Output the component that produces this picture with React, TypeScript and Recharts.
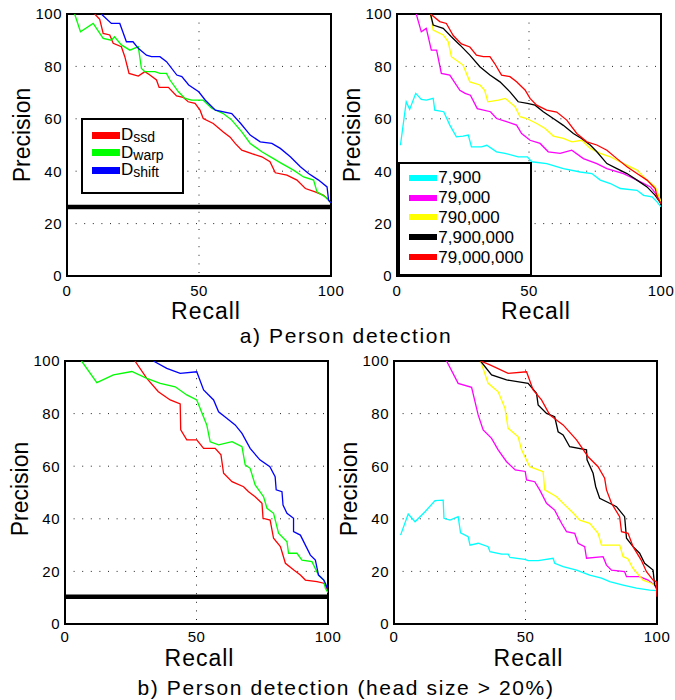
import {
  CartesianGrid,
  Legend,
  Line,
  LineChart,
  ReferenceArea,
  ReferenceLine,
  XAxis,
  YAxis,
} from "recharts";

type Pt = [number, number]; // [recall, precision]

// a) Person detection — distance functions
const aSsd: Pt[] = [[10.5,100],[12.4,98],[13.7,92.6],[16.2,92],[17.5,88.8],[20.6,87.5],[21.9,83.7],[23.5,77.3],[27,76.3],[29.5,78],[31.4,76.7],[33.9,74.8],[34.9,72],[38.4,72],[41.5,68.7],[44,68.2],[45.9,66.5],[48.5,65.9],[50.4,63.3],[51.6,60.1],[55.4,58.2],[59.2,55],[61.8,53],[63.7,50.6],[66.2,48],[70,46.7],[73.8,45.5],[76.9,43.6],[78.9,39.4],[83.3,38.5],[87.1,36.6],[90.3,33.4],[94,32.1],[97.2,30.8],[98.5,29.6],[100,27.9]];
const aWarp: Pt[] = [[2.9,100],[5.1,93.2],[9.9,96.4],[13.7,90.7],[16.8,90],[18,91.3],[20.6,88.2],[23.8,86.2],[27,87.5],[28.2,79.2],[29.5,78],[33.3,78],[35.2,77.3],[37.7,77.3],[39,74.8],[42.2,70.3],[44.7,67.8],[47.2,67.1],[51.6,67.1],[54.8,64],[59.2,62],[62.4,59.5],[66.2,55],[69.4,50.6],[73.8,47.4],[78.2,44.8],[81.4,42.9],[85.8,40.4],[89.6,37.8],[93.4,36.6],[94.7,32.1],[97.8,30.2],[100,27.9]];
const aShift: Pt[] = [[13,100],[16.8,96.4],[20,96.4],[22.5,89.4],[25,89.4],[27,86.9],[30.1,84.3],[32,83.7],[35.2,83.7],[37.7,81.8],[41.6,76.7],[43.5,76.1],[46.1,72.9],[49.9,70.3],[52.4,67.1],[56.2,63.3],[62.4,62],[65.8,58.2],[69.4,53.8],[73.2,51.2],[77.6,50.6],[80.8,48.7],[84.6,45.5],[88.4,41.7],[91.5,39.1],[95.3,36.6],[98.5,34],[99.1,28.9],[100,27.9]];

// a) Person detection — training set size
const a7900: Pt[] = [[1.3,49.9],[3.5,66.5],[4.8,63.6],[7.1,69.7],[9.2,67.4],[11.1,67.1],[13.7,67.8],[14.3,63.3],[17.7,62.7],[20,57.6],[22.5,53.1],[25,53.4],[27,53.8],[28.2,49.3],[32,49.3],[34,49.9],[37.7,47.4],[40.9,46.8],[45.9,45.5],[49.4,45.5],[51,43.6],[56.7,42.9],[63,41],[69.4,39.7],[73.8,39.1],[77,36.6],[80.8,35.3],[84.6,33.4],[90.9,32.7],[93.4,30.8],[96.6,30.2],[98.5,28.3],[100,26.4]];
const a79000: Pt[] = [[7.3,100],[9.2,93.2],[11.1,94.5],[13,86.2],[15,86.2],[16.8,77.3],[20,76.7],[23.8,70.9],[25.8,69.7],[27.8,69],[30.4,63.9],[35.4,62.7],[37.7,60.1],[41.5,58.9],[45.3,57.6],[47.2,54.4],[50.4,51.8],[54.2,50.6],[57.3,47.4],[61.8,46.8],[66.2,48],[70.6,44.8],[75.7,42.9],[79.5,41],[85.8,39.1],[88.4,37.8],[92.2,35.9],[96,34],[98.5,30.8],[100,27.6]];
const a790000: Pt[] = [[12.7,100],[13.7,93.9],[17.5,92],[19.4,89.4],[20.6,83.7],[25,80.5],[27.6,74.1],[31.4,72.9],[33.2,70.9],[34.4,66.5],[38.4,67.1],[41,67.8],[44.7,64.6],[46.6,60.8],[49.1,60.1],[52.9,58.2],[56.1,56.3],[59.2,53.4],[63,52.5],[66.2,51.2],[70,51.8],[73.2,48.7],[77,46.8],[80.8,45.5],[85.8,42.9],[90.9,40.4],[94.7,36.6],[97.8,34],[100,28.3]];
const a7900000: Pt[] = [[12.7,100],[13.7,95.8],[17.5,94.5],[20.6,91.3],[23.8,88.2],[27.6,84.3],[31.4,79.9],[35.2,76.7],[39,74.1],[42.8,70.3],[45.9,66.5],[49.4,65.9],[52.3,65.2],[55.4,62.7],[59.2,60.1],[63,57.5],[66.8,54.4],[69.9,52.5],[73.2,50],[75.7,47.4],[79.5,42.9],[83.3,41],[87.1,39.1],[90.9,36.6],[94.7,34],[97.8,30.8],[100,27.6]];
const a79000000: Pt[] = [[12.7,100],[16.2,97.1],[18.7,96.4],[21.3,91.8],[24.4,88.6],[27.6,87.4],[30.1,84.3],[32.7,83.7],[35.2,83.7],[37,81.1],[39.6,76.7],[42.8,76.1],[45.3,74.1],[48.5,71],[50.4,67.8],[52.9,65.2],[56.7,63.3],[60.5,62.6],[64.3,59.5],[68.1,54.4],[71.9,51.2],[75.7,50],[79.5,48],[83.3,44.8],[87.1,41.7],[90.9,39.1],[94.7,36.6],[97.8,33.4],[98.5,30.2],[100,27.6]];

// b) head size > 20% — distance functions
const bSsd: Pt[] = [[26.6,100],[31.1,93.4],[35.5,88.3],[40,85.2],[43.8,83.7],[44,73.8],[46.3,70],[50.1,70],[52.7,66.8],[57.1,66.8],[59.3,64.3],[60.3,57.3],[63.5,54.1],[67.9,52.2],[69.8,50.3],[72.3,48.4],[74.9,45.9],[75.3,40.2],[78,39.5],[79.3,32.6],[81.9,29.4],[83.8,23.1],[87,20.5],[89.5,18.6],[91.4,16.7],[95.8,16.1],[98.4,15.5],[100,12.9]];
const bWarp: Pt[] = [[6.3,100],[12.1,91.8],[18.4,94.7],[25.4,96],[31.1,93.4],[36.2,91.5],[41.9,90.2],[46.3,87.1],[50.1,85.2],[53.9,75.7],[55.2,69.3],[58.4,68.1],[63.5,69.3],[67.3,67.4],[68.5,60.5],[70.4,59.2],[72.3,52.9],[75.5,48.4],[76.8,44],[79.3,42.1],[81.2,34.5],[84.4,31.3],[85,26.9],[88.2,26.9],[90.1,24.3],[93.9,23.7],[96.4,18.6],[98.4,16.7],[99,13.6],[100,11.9]];
const bShift: Pt[] = [[33.6,100],[38.7,97.2],[43.8,95.3],[50.1,95.9],[52.7,89],[56.5,85.2],[58.4,80.7],[61.5,78.2],[64.7,75.7],[67.3,72.5],[70.4,66.8],[74.1,62.4],[77.9,59.8],[79.9,56],[80.3,51],[82.5,50.3],[82.9,45.2],[84.4,42.1],[86.9,40.2],[86.9,35.1],[89.5,33.8],[91.4,30],[93.3,26.2],[95.2,24.3],[96.4,18.6],[98.4,16.7],[99,15.5],[100,12.9]];

// b) head size > 20% — training set size
const b7900: Pt[] = [[2.5,33.8],[5.4,41.8],[8,38.9],[11.8,42.7],[15.6,46.9],[18.7,47.1],[19,40.2],[21.3,39.5],[24.4,40.8],[25.3,34.7],[28.2,33.2],[28.9,30],[32,30.7],[35.8,29.4],[36.5,27.5],[40.9,26.6],[43.4,26.6],[44.1,25.3],[49.7,24.6],[51,24.1],[54.8,24.1],[60.5,25],[61.1,23.1],[64.3,21.8],[69.4,20.5],[74.4,18.6],[78.9,17.4],[82,16.1],[87.1,14.8],[92.2,13.6],[97.2,12.9],[100,12.7]];
const b79000: Pt[] = [[20,100],[24.4,91.5],[29.5,90],[32,79.5],[33.9,73.8],[37.1,70.6],[39.6,66.2],[42.8,61.7],[46.1,58.6],[49.9,58],[50.4,54.8],[53.5,54.1],[55.4,51],[58,45.9],[61.1,43.3],[63.7,38.3],[65.6,35.1],[68.7,34.5],[70,30.7],[72.5,29.4],[73.2,25],[79.5,25.6],[80.8,22.4],[82.7,20.5],[87.7,19.9],[88.4,18],[93.4,18],[96.6,16.7],[99.1,14.8],[100,12.9]];
const b790000: Pt[] = [[32.9,100],[35.8,91.5],[39.6,88.3],[42.2,82],[43.4,74.4],[47.2,71.2],[48.5,66.2],[51.6,59.8],[56.7,57.9],[57.3,51],[61.8,48.4],[65,45.2],[68.2,42.1],[70.6,39.5],[74.4,38.3],[77.6,34.5],[78.9,30],[85.8,30],[87.1,25.6],[88.9,24.8],[90.8,21.2],[94.7,16.7],[97.8,15.5],[100,14.2]];
const b7900000: Pt[] = [[32.9,100],[37.1,94.7],[42.8,92.8],[51,91.5],[54.2,87.7],[54.8,83.3],[58,80.1],[61.1,78.8],[62.4,73.1],[64.3,71.9],[66.8,67.4],[73.2,66.2],[73.4,62.4],[75.7,57.3],[76.7,52.2],[78.2,47.8],[82,45.9],[84.6,44.6],[87.7,40.8],[88.4,32.6],[90.9,29.4],[93.4,26.9],[95.3,23.1],[98.5,20.5],[99.1,14.8],[100,13.6]];
const b79000000: Pt[] = [[32.9,100],[36.5,98.5],[43.4,95.3],[50.4,95.9],[52.9,89],[56.1,85.2],[59.2,79.5],[64.3,75.7],[69.4,70],[73.8,63.6],[77.6,59.8],[80.1,55.4],[80.8,51],[82.7,45.9],[85.8,40.8],[86.5,35.1],[89,34.5],[90.9,29.4],[94,24.3],[96,19.9],[98.5,16.7],[99.7,16.1],[100,10.4]];

const recallTicks = [0, 50, 100];
const precisionTicks = [0, 20, 40, 60, 80, 100];
const chanceA = 26.3;
const chanceB = 10.4;

const distanceLabels = ["ssd", "warp", "shift"];
const distanceColors = ["#ff0000", "#00ff00", "#0000ff"];
const sizeLabels = ["7,900", "79,000", "790,000", "7,900,000", "79,000,000"];
const sizeColors = ["#00ffff", "#ff00ff", "#ffff00", "#000000", "#ff0000"];

const FONT = '"Liberation Sans", Arial, Helvetica, sans-serif';
const Y_AXIS_W = 67;
const X_AXIS_H = 44;
const TOP = 14;

type Series = { label: string; color: string; pts: Pt[] };

const toRows = (pts: Pt[]) => pts.map(([recall, precision]) => ({ recall, precision }));
const makeSeries = (labels: string[], colors: string[], sets: Pt[][]): Series[] =>
  labels.map((label, i) => ({ label, color: colors[i], pts: sets[i] }));

type LegendSpec = {
  left: number;
  top: number;
  width: number;
  height: number;
  border: number;
  padTop: number;
  padLeft: number;
  rowH: number;
  swatchH: number;
  subscript: boolean;
};

function LegendBox({ items, spec }: { items: Series[]; spec: LegendSpec }) {
  return (
    <div
      style={{
        width: spec.width,
        height: spec.height,
        boxSizing: "border-box",
        border: `${spec.border}px solid #000`,
        background: "#fff",
        paddingTop: spec.padTop,
        paddingLeft: spec.padLeft,
        fontFamily: FONT,
        color: "#000",
      }}
    >
      {items.map((s) => (
        <div key={s.label} style={{ display: "flex", alignItems: "center", height: spec.rowH }}>
          <span style={{ width: 28, height: spec.swatchH, background: s.color, marginRight: 1, flex: "none" }} />
          {spec.subscript ? (
            <span style={{ fontSize: 17, lineHeight: "15px", whiteSpace: "nowrap" }}>
              D<span style={{ fontSize: 14, position: "relative", top: 2 }}>{s.label}</span>
            </span>
          ) : (
            <span style={{ fontSize: 17, lineHeight: "17px", whiteSpace: "nowrap" }}>{s.label}</span>
          )}
        </div>
      ))}
    </div>
  );
}

type PanelProps = {
  plotLeft: number;
  plotTop: number;
  w: number;
  h: number;
  series: Series[];
  chance?: number;
  legend?: LegendSpec;
  tickGap: number;
  recallShift: number;
  recallBaseline: number;
  precisionCenter: number;
};

function Panel(p: PanelProps) {
  const width = Y_AXIS_W + p.w + 14;
  const height = TOP + p.h + X_AXIS_H + 4;
  return (
    <div style={{ position: "absolute", left: p.plotLeft - Y_AXIS_W, top: p.plotTop - TOP }}>
      <LineChart width={width} height={height} margin={{ top: TOP, right: 14, bottom: 4, left: 0 }}>
        <CartesianGrid stroke="#222" strokeDasharray="1 7.6" />
        <XAxis
          type="number"
          dataKey="recall"
          domain={[0, 100]}
          ticks={recallTicks}
          allowDataOverflow
          height={X_AXIS_H}
          axisLine={false}
          tickLine={false}
          tickSize={6}
          tickMargin={p.tickGap}
          tick={{ fill: "#000", fontSize: 15, letterSpacing: 0.5 }}
          label={() => (
            <text
              x={Y_AXIS_W + p.w / 2 + p.recallShift}
              y={TOP + p.h + p.recallBaseline}
              textAnchor="middle"
              fontSize={23}
              letterSpacing={1}
              fill="#000"
            >
              Recall
            </text>
          )}
        />
        <YAxis
          type="number"
          domain={[0, 100]}
          ticks={precisionTicks}
          allowDataOverflow
          width={Y_AXIS_W}
          axisLine={false}
          tickLine={false}
          tickSize={4}
          tickMargin={1}
          tick={{ fill: "#000", fontSize: 15, letterSpacing: 0.5 }}
          label={() => (
            <text
              x={30}
              y={p.precisionCenter}
              transform={`rotate(-90 30 ${p.precisionCenter})`}
              textAnchor="middle"
              fontSize={23}
              fill="#000"
            >
              Precision
            </text>
          )}
        />
        {p.series.map((s) => (
          <Line
            key={s.label}
            data={toRows(s.pts)}
            dataKey="precision"
            name={s.label}
            type="linear"
            stroke={s.color}
            strokeWidth={1.3}
            dot={false}
            activeDot={false}
            isAnimationActive={false}
          />
        ))}
        {p.chance !== undefined && (
          <ReferenceLine y={p.chance} stroke="#000" strokeWidth={4.5} />
        )}
        <ReferenceArea x1={0} x2={100} y1={0} y2={100} fill="none" stroke="#000" strokeWidth={2} />
        {p.legend && (
          <Legend
            layout="vertical"
            align="center"
            verticalAlign="middle"
            wrapperStyle={{ left: p.legend.left, top: p.legend.top, width: p.legend.width, height: p.legend.height }}
            content={() => <LegendBox items={p.series} spec={p.legend as LegendSpec} />}
          />
        )}
      </LineChart>
    </div>
  );
}

const legendDist: LegendSpec = {
  left: 81, top: 117.5, width: 103, height: 76, border: 2,
  padTop: 7, padLeft: 9, rowH: 17.5, swatchH: 7, subscript: true,
};
const legendSize: LegendSpec = {
  left: 68.3, top: 161.7, width: 133.5, height: 114, border: 2.5,
  padTop: 4, padLeft: 9, rowH: 19.9, swatchH: 6, subscript: false,
};

export default function App() {
  const aDist = makeSeries(distanceLabels, distanceColors, [aSsd, aWarp, aShift]);
  const aSize = makeSeries(sizeLabels, sizeColors, [a7900, a79000, a790000, a7900000, a79000000]);
  const bDist = makeSeries(distanceLabels, distanceColors, [bSsd, bWarp, bShift]);
  const bSize = makeSeries(sizeLabels, sizeColors, [b7900, b79000, b790000, b7900000, b79000000]);

  const titleStyle = {
    position: "absolute" as const,
    left: 46,
    width: 600,
    textAlign: "center" as const,
    fontSize: 21,
    lineHeight: "21px",
    letterSpacing: 1.6,
    color: "#000",
  };

  return (
    <div
      style={{
        position: "absolute",
        left: 0,
        top: 0,
        width: 675,
        height: 700,
        background: "#fff",
        fontFamily: FONT,
        overflow: "hidden",
      }}
    >
      <Panel plotLeft={67} plotTop={14} w={264} h={262} series={aDist} chance={chanceA} legend={legendDist}
        tickGap={3} recallShift={7} recallBaseline={43} precisionCenter={135} />
      <Panel plotLeft={397} plotTop={14} w={264} h={262} series={aSize} legend={legendSize}
        tickGap={3} recallShift={7} recallBaseline={43} precisionCenter={135} />
      <Panel plotLeft={65} plotTop={361} w={263} h={263} series={bDist} chance={chanceB}
        tickGap={1} recallShift={3} recallBaseline={42} precisionCenter={142} />
      <Panel plotLeft={394} plotTop={361} w={263} h={263} series={bSize}
        tickGap={1} recallShift={3} recallBaseline={42} precisionCenter={142} />
      <div style={{ ...titleStyle, top: 325 }}>a) Person detection</div>
      <div style={{ ...titleStyle, top: 677 }}>b) Person detection (head size &gt; 20%)</div>
    </div>
  );
}
